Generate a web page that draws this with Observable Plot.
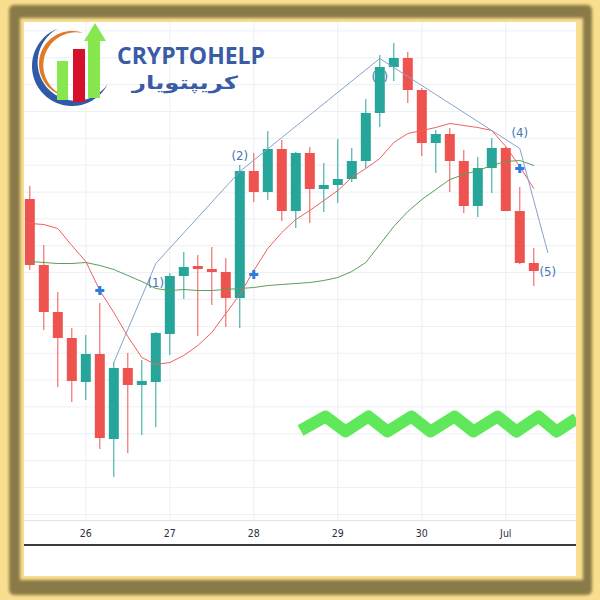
<!DOCTYPE html>
<html>
<head>
<meta charset="utf-8">
<script src="https://cdn.jsdelivr.net/npm/d3@7"></script>
<script src="https://cdn.jsdelivr.net/npm/@observablehq/plot@0.6"></script>
<style>
  body { margin: 0; }
  #frame { position: relative; width: 600px; height: 600px; background: #f8de8e; overflow: hidden; }
  #groove { position: absolute; left: 9px; top: 5px; width: 583px; height: 590px; box-sizing: border-box;
            border-style: solid; border-color: #8a7a48; border-width: 13px 9px 15px 11px;
            border-radius: 5px; filter: blur(1.6px); }
  #paper { position: absolute; left: 24px; top: 22px; width: 552px; height: 554px; background: #fff; }
  #chart { position: absolute; left: 24px; top: 22px; width: 552px; height: 522px; border-bottom: 2px solid #3a3a3a; }
  #logo { position: absolute; left: 0; top: 0; }
</style>
</head>
<body>
<div id="frame">
  <div id="groove"></div>
  <div id="paper"></div>
  <div id="chart"></div>
  <svg id="logo" width="300" height="120" viewBox="0 0 300 120">
    <path id="arcBlue" fill="#2f5aa8"></path>
    <path id="arcOrange" fill="#e07a27"></path>
    <rect x="57" y="61" width="11" height="39" fill="#86e84e"></rect>
    <rect x="73" y="49" width="12" height="53" fill="#d5102a"></rect>
    <path d="M88 98 L88 41 L84 41 L95 23 L106 41 L100 41 L100 98 Z" fill="#86e84e"></path>
    <text x="117" y="64" font-family="Open Sans, DejaVu Sans, sans-serif" font-weight="700" font-size="24"
          fill="#3a5ba6" textLength="148" lengthAdjust="spacingAndGlyphs">CRYPTOHELP</text>
    <text x="132" y="89" font-family="DejaVu Sans, sans-serif" font-weight="700" font-size="18"
          fill="#3a5ba6" textLength="106" lengthAdjust="spacingAndGlyphs">کریپتویار</text>
  </svg>
</div>
<script>
// ---- candles (4h), price units ----
const open  = [401,335,288,262,218,246,161,232,215,218,266,324,334,331,328,302,429,408,451,389,447,411,415,421,439,487,533,542,510,457,466,439,394,432,452,389,337];
const high  = [414,355,308,272,265,297,238,247,240,268,327,348,345,353,342,435,447,469,460,448,453,437,461,452,501,545,557,548,512,470,472,450,443,462,453,413,352];
const low   = [330,270,213,198,200,151,123,147,165,173,245,301,264,295,273,272,398,400,379,372,377,388,397,418,432,473,519,497,444,427,408,387,383,407,389,336,314];
const close = [335,288,262,219,246,162,232,215,219,267,324,333,331,328,302,429,408,451,389,447,411,415,421,439,487,533,542,510,457,466,439,394,432,452,389,337,329];

// ---- moving averages ----
const maFast = [377,376,372,355,339,310,288,264,243,236,238,245,255,268,287,306,330,352,368,381,390,400,410,423,432,442,458,467,470,473,477,475,473,470,454,434,412];
const maSlow = [339,338,337,337,338,335,331,325,319,312,310,311,310,310,311,312,313,315,316,317,318,320,323,329,338,356,374,389,401,411,421,426,430,435,439,440,435];

// ---- wave count ----
const waveX = [6, 9, 15, 25, 35, 37];
const waveY = [238, 337, 429, 542, 452, 348];
const waveText = ["", "(1)", "(2)", "(3)", "(4)", "(5)"];
const wavePos  = ["", "below", "above", "below", "above", "below"];

// ---- signal markers ----
const signalX = [5, 16, 35];
const signalY = [310, 326, 432];

// ---- decorative zigzag band ----
const zigX = [19.34, 21.12, 22.55, 24.19, 25.55, 27.26, 28.62, 30.34, 31.69, 33.41, 34.76, 36.34, 37.62, 39.05];
const zigY = [170, 184, 169, 184, 169, 184, 169, 184, 169, 184, 169, 184, 169, 182];

// ---- axis ----
const xTicks  = [4, 10, 16, 22, 28, 34];
const xLabels = ["26", "27", "28", "29", "30", "Jul"];
const yGrid = [569.6, 542.7, 515.9, 489.0, 462.2, 435.3, 408.4, 381.6, 354.7, 327.9, 301.0, 274.1, 247.3, 220.4, 193.6, 166.7, 139.8, 113.0, 86.1];

const UP = "#26a69a", DOWN = "#ef5350";
const candles = open.map((o, i) => ({i, o, h: high[i], l: low[i], c: close[i], col: close[i] >= o ? UP : DOWN}));
const ma = maFast.map((f, i) => ({i, f, s: maSlow[i]}));
const wave = waveX.map((x, k) => ({x, y: waveY[k], t: waveText[k], p: wavePos[k]}));
const signals = signalX.map((x, k) => ({x, y: signalY[k]}));
const zig = zigX.map((x, k) => ({x, y: zigY[k]}));

const labelFont = "Liberation Sans Narrow, DejaVu Sans Condensed, Arial Narrow, sans-serif";

const chart = Plot.plot({
  width: 552, height: 522,
  marginLeft: 0, marginRight: 0, marginTop: 0, marginBottom: 24,
  x: {domain: [-0.38, 39.05], axis: null},
  y: {domain: [80, 578], axis: null},
  color: {type: "identity"},
  style: {background: "transparent", fontFamily: labelFont, fontSize: "10.5px", color: "#2a2e39"},
  marks: [
    Plot.ruleY(yGrid, {stroke: "#eceff4"}),
    Plot.ruleX(xTicks, {stroke: "#eceff4"}),
    Plot.ruleY([80], {stroke: "#dfe2e8"}),
    Plot.text(wave.filter(d => d.t === "(3)"), {x: "x", y: "y", text: "t", dy: 18, fill: "#4474b6", fontSize: 13, fontFamily: labelFont}),
    Plot.ruleX(candles, {x: "i", y1: "l", y2: "h", stroke: "col", strokeWidth: 1}),
    Plot.ruleX(candles, {x: "i", y1: "o", y2: "c", stroke: "col", strokeWidth: 10}),
    Plot.line(ma, {x: "i", y: "s", stroke: "#58a05b", strokeWidth: 1}),
    Plot.line(ma, {x: "i", y: "f", stroke: "#ef605c", strokeWidth: 1}),
    Plot.line(wave, {x: "x", y: "y", stroke: "#86a3cc", strokeWidth: 1}),
    Plot.text(wave.filter(d => d.p === "below" && d.t !== "(3)"), {x: "x", y: "y", text: "t", dy: 19, fill: "#4474b6", fontSize: 13, fontFamily: labelFont}),
    Plot.text(wave.filter(d => d.p === "above"), {x: "x", y: "y", text: "t", dy: -16, fill: "#4474b6", fontSize: 13, fontFamily: labelFont}),
    Plot.dot(signals, {x: "x", y: "y", symbol: "cross", r: 3.8, fill: "#2a7de1", stroke: "none"}),
    Plot.line(zig, {x: "x", y: "y", stroke: "#60e85b", strokeWidth: 12, strokeLinejoin: "round", strokeLinecap: "butt"}),
    Plot.axisX(xTicks, {tickSize: 0, tickPadding: 9, tickFormat: d => xLabels[xTicks.indexOf(d)], fontSize: 10.5})
  ]
});
document.getElementById("chart").appendChild(chart);

// ---- logo crescents ----
function crescent(cx, cy, R, a0, a1, w, n = 80) {
  const pts = [];
  for (let k = 0; k <= n; k++) {
    const a = (a0 + (a1 - a0) * k / n) * Math.PI / 180;
    pts.push([cx + R * Math.cos(a), cy + R * Math.sin(a)]);
  }
  for (let k = n; k >= 0; k--) {
    const a = (a0 + (a1 - a0) * k / n) * Math.PI / 180;
    const r = R - w * Math.sin(Math.PI * k / n);
    pts.push([cx + r * Math.cos(a), cy + r * Math.sin(a)]);
  }
  return "M" + pts.map(p => p[0].toFixed(2) + "," + p[1].toFixed(2)).join("L") + "Z";
}
document.getElementById("arcBlue").setAttribute("d", crescent(72, 66, 40, 249, 26.6, 7));
document.getElementById("arcOrange").setAttribute("d", crescent(72, 64, 33, 292, 100, 4.5));
</script>
</body>
</html>
